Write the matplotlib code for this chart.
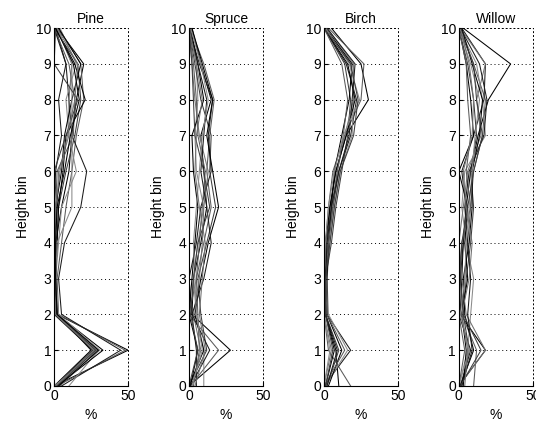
import numpy as np
import matplotlib.pyplot as plt

plt.rcParams['font.family'] = ['Liberation Sans', 'DejaVu Sans']

bins = np.arange(0, 11)  # height bins 0..10
titles = ['Pine', 'Spruce', 'Birch', 'Willow']

# % per height bin (index = bin 0..10), one list per profile
pine = [
    [0, 50, 2, 1, 1, 5, 10, 12, 15, 20, 2],
    [2, 48, 3, 2, 5, 8, 12, 15, 20, 18, 3],
    [5, 45, 5, 3, 7, 18, 22, 12, 10, 8, 1],
    [10, 30, 2, 1, 3, 5, 15, 10, 8, 15, 4],
    [1, 28, 1, 0, 2, 3, 8, 14, 18, 16, 0],
    [3, 27, 1, 1, 1, 2, 3, 10, 10, 12, 2],
    [0, 25, 2, 0, 0, 1, 5, 7, 12, 18, 3],
    [2, 33, 2, 1, 2, 3, 6, 8, 21, 14, 1],
    [4, 29, 1, 0, 1, 1, 2, 13, 14, 10, 0],
    [1, 26, 0, 0, 0, 0, 1, 5, 3, 8, 0],
    [0, 31, 3, 1, 2, 12, 12, 12, 12, 12, 2],
    [2, 28, 2, 1, 0, 2, 0, 8, 16, 0, 1],
    [1, 27, 1, 0, 0, 1, 4, 9, 14, 16, 2],
    [3, 30, 2, 1, 1, 2, 7, 11, 17, 13, 1],
]
spruce = [
    [0, 28, 2, 3, 8, 12, 10, 8, 15, 8, 2],
    [1, 20, 0, 5, 10, 15, 12, 14, 17, 10, 1],
    [5, 5, 2, 0, 5, 8, 15, 13, 16, 7, 0],
    [10, 10, 5, 3, 6, 10, 5, 4, 6, 5, 1],
    [0, 12, 8, 6, 12, 18, 14, 15, 8, 4, 0],
    [2, 8, 3, 7, 9, 10, 13, 7, 4, 2, 0],
    [1, 6, 0, 2, 4, 6, 3, 2, 10, 6, 1],
    [0, 10, 4, 8, 13, 20, 16, 12, 16, 9, 2],
    [3, 7, 6, 5, 7, 9, 11, 6, 5, 3, 0],
    [1, 14, 2, 10, 15, 12, 8, 10, 12, 6, 0],
    [2, 9, 5, 4, 3, 5, 7, 9, 13, 8, 1],
    [0, 6, 1, 3, 6, 14, 10, 4, 3, 2, 0],
    [4, 11, 7, 9, 11, 7, 4, 5, 9, 5, 0],
]
birch = [
    [10, 8, 1, 1, 2, 4, 8, 15, 30, 25, 5],
    [18, 3, 0, 0, 1, 3, 6, 14, 25, 27, 3],
    [0, 18, 2, 1, 3, 6, 10, 18, 22, 15, 0],
    [1, 16, 3, 2, 4, 7, 11, 19, 20, 18, 1],
    [2, 10, 1, 1, 5, 8, 12, 16, 18, 14, 0],
    [0, 5, 0, 0, 2, 5, 9, 14, 20, 20, 2],
    [3, 12, 2, 2, 3, 5, 7, 12, 17, 19, 1],
    [1, 7, 1, 0, 1, 4, 8, 15, 21, 16, 0],
    [0, 14, 2, 1, 3, 6, 9, 13, 16, 12, 0],
    [2, 9, 1, 1, 2, 5, 10, 17, 19, 21, 2],
    [0, 4, 0, 0, 1, 3, 7, 13, 24, 17, 1],
    [1, 6, 1, 1, 4, 7, 11, 20, 23, 18, 0],
]
willow = [
    [0, 18, 1, 2, 3, 5, 8, 13, 20, 35, 3],
    [10, 12, 2, 4, 6, 8, 10, 16, 18, 10, 1],
    [1, 8, 0, 1, 3, 5, 2, 10, 17, 18, 2],
    [0, 6, 8, 10, 5, 2, 4, 18, 16, 12, 0],
    [2, 7, 3, 5, 8, 10, 8, 12, 10, 6, 0],
    [0, 18, 5, 2, 0, 3, 6, 15, 12, 18, 1],
    [3, 5, 2, 6, 4, 6, 0, 10, 8, 5, 0],
    [1, 10, 4, 3, 7, 9, 9, 14, 16, 9, 2],
    [0, 4, 0, 0, 2, 8, 5, 8, 6, 5, 0],
    [2, 9, 6, 8, 6, 4, 7, 17, 19, 14, 1],
    [0, 7, 1, 4, 5, 7, 9, 11, 14, 8, 0],
    [1, 15, 3, 1, 2, 6, 10, 16, 12, 10, 0],
    [4, 6, 2, 7, 9, 5, 3, 9, 10, 7, 1],
]
data = [pine, spruce, birch, willow]

shades = ['#000000', '#5a5a5a', '#1a1a1a', '#8a8a8a', '#3c3c3c', '#707070', '#000000']

fig = plt.figure(figsize=(5.36, 4.23), dpi=100)
lefts = [0.101, 0.3526, 0.6045, 0.856]
for i in range(4):
    ax = fig.add_axes([lefts[i], 0.0875, 0.138, 0.846])
    for j, prof in enumerate(data[i]):
        ax.plot(prof, bins, color=shades[j % len(shades)], lw=0.75)
    ax.set_xlim(0, 50)
    ax.set_ylim(0, 10)
    ax.set_xticks([0, 50])
    ax.set_yticks(range(11))
    ax.tick_params(direction='in', length=3, labelsize=10, pad=2)
    ax.grid(True, color='black', linestyle=(0, (1, 3)), lw=0.7)
    for side in ['top', 'right']:
        ax.spines[side].set_linestyle((0, (1, 3)))
        ax.spines[side].set_linewidth(0.7)
    ax.set_title(titles[i], fontsize=10, pad=4)
    ax.set_xlabel('%', fontsize=10)
    ax.set_ylabel('Height bin', fontsize=10)

fig.savefig('out.png', dpi=100)
